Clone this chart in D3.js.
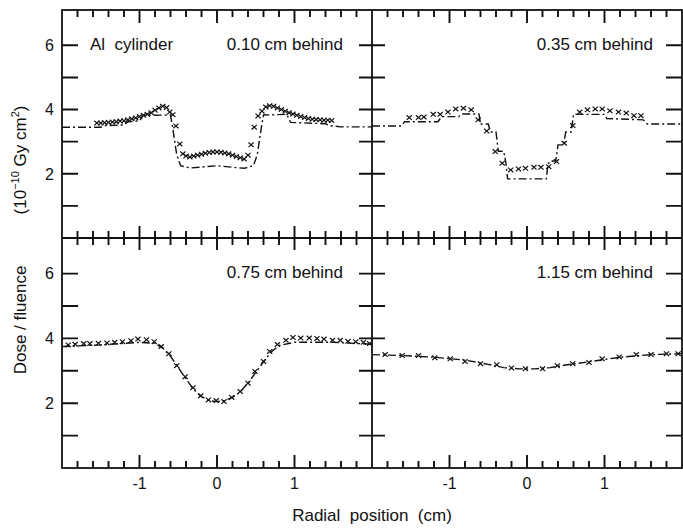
<!DOCTYPE html>
<html>
<head>
<meta charset="utf-8">
<script src="https://cdn.jsdelivr.net/npm/d3@7"></script>
<style>
  body { margin: 0; background: #fff; }
  text { font-family: "Liberation Sans", Arial, sans-serif; fill: #111; white-space: pre; }
</style>
</head>
<body>
<svg id="chart" width="683" height="529"></svg>
<script>
// panel labels
const panelLabels = ["0.10 cm behind", "0.35 cm behind", "0.75 cm behind", "1.15 cm behind"];
const xTickLabels = [-1, 0, 1];
const yTickLabels = [2, 4, 6];

// measured (crosses) and calculated (dash-dot) for each depth
const measX1 = [-1.55,-1.50,-1.45,-1.40,-1.35,-1.30,-1.25,-1.20,-1.15,-1.10,-1.05,-1.00,-0.95,-0.90,-0.85,-0.80,-0.75,-0.70,-0.65,
  -0.61,-0.57,-0.53,-0.48,-0.44,
  -0.40,-0.35,-0.30,-0.25,-0.20,-0.15,-0.10,-0.05,0.00,0.05,0.10,0.15,0.20,0.25,0.30,0.35,0.40,
  0.44,0.48,
  0.53,0.58,0.63,0.68,0.73,0.78,0.83,0.88,0.93,0.98,1.03,1.08,1.13,1.18,1.23,1.28,1.33,1.38,1.43,1.48];
const measY1 = [3.58,3.58,3.59,3.60,3.61,3.62,3.64,3.65,3.68,3.71,3.74,3.78,3.82,3.85,3.90,3.98,4.05,4.10,4.06,
  3.92,3.84,3.49,2.93,2.62,
  2.55,2.52,2.55,2.58,2.61,2.64,2.66,2.68,2.68,2.67,2.65,2.62,2.58,2.54,2.50,2.46,2.58,
  2.90,3.45,
  3.80,3.95,4.08,4.12,4.10,4.05,4.00,3.95,3.90,3.86,3.82,3.78,3.75,3.72,3.70,3.69,3.68,3.67,3.67,3.66];
const calcX1 = [-2.0,-1.5,-1.45,-1.2,-1.15,-1.0,-0.95,-0.6,-0.57,-0.52,-0.47,-0.35,0.0,0.35,0.47,0.52,0.57,0.6,0.9,0.95,1.4,1.45,1.6,2.0];
const calcY1 = [3.45,3.45,3.50,3.52,3.62,3.65,3.82,3.83,3.40,2.60,2.25,2.18,2.25,2.17,2.25,2.60,3.40,3.83,3.85,3.60,3.56,3.50,3.46,3.46];

const measX2 = [-1.52,-1.40,-1.33,-1.21,-1.12,-1.02,-0.92,-0.82,-0.72,-0.63,-0.52,-0.41,-0.32,-0.21,-0.11,-0.02,
  0.09,0.18,0.28,0.38,0.48,0.59,0.68,0.78,0.88,0.97,1.07,1.18,1.28,1.38,1.47];
const measY2 = [3.75,3.75,3.77,3.85,3.85,3.92,4.02,4.04,3.99,3.68,3.33,2.69,2.33,2.12,2.15,2.17,
  2.20,2.20,2.22,2.38,2.95,3.50,3.92,3.99,4.02,4.02,3.96,3.92,3.89,3.81,3.81];
const calcX2 = [-2.0,-1.62,-1.58,-1.15,-1.1,-0.88,-0.85,-0.62,-0.6,-0.5,-0.47,-0.4,-0.37,-0.3,-0.27,-0.25,0.25,0.27,0.3,0.37,0.4,0.47,0.5,0.57,0.6,1.0,1.03,1.5,1.55,2.0];
const calcY2 = [3.49,3.49,3.62,3.62,3.78,3.78,3.86,3.86,3.55,3.55,3.30,3.30,2.70,2.70,2.30,1.84,1.84,2.30,2.40,2.40,2.90,2.90,3.30,3.30,3.85,3.85,3.72,3.68,3.55,3.55];

const measX3 = [-1.92,-1.83,-1.72,-1.64,-1.53,-1.42,-1.32,-1.22,-1.11,-1.02,-0.91,-0.81,-0.72,-0.62,-0.52,-0.41,-0.31,-0.21,-0.11,-0.01,
  0.09,0.19,0.30,0.40,0.49,0.60,0.68,0.78,0.89,0.98,1.08,1.19,1.29,1.38,1.49,1.59,1.69,1.79,1.89,1.97];
const measY3 = [3.80,3.82,3.84,3.84,3.85,3.86,3.88,3.90,3.93,3.98,3.96,3.90,3.75,3.53,3.16,2.82,2.48,2.23,2.10,2.08,
  2.05,2.18,2.36,2.62,2.98,3.29,3.60,3.81,3.94,4.03,4.01,4.01,4.00,3.98,3.94,3.94,3.91,3.90,3.88,3.84];
const calcX3 = [-2.0,-1.5,-1.0,-0.8,-0.7,-0.6,-0.5,-0.4,-0.3,-0.2,-0.1,0.0,0.1,0.2,0.3,0.4,0.5,0.6,0.7,0.8,1.0,1.5,2.0];
const calcY3 = [3.75,3.80,3.88,3.85,3.70,3.45,3.10,2.75,2.42,2.20,2.08,2.05,2.08,2.18,2.35,2.62,2.95,3.28,3.58,3.78,3.88,3.88,3.82];

const measX4 = [-1.83,-1.61,-1.40,-1.19,-0.99,-0.80,-0.60,-0.39,-0.20,-0.02,0.20,0.39,0.59,0.80,0.97,1.19,1.41,1.60,1.80,1.95];
const measY4 = [3.50,3.47,3.47,3.40,3.37,3.29,3.22,3.19,3.09,3.06,3.06,3.16,3.22,3.26,3.37,3.43,3.50,3.50,3.53,3.53];
const calcX4 = [-2.0,-1.6,-1.2,-0.8,-0.5,-0.3,-0.1,0.1,0.3,0.5,0.8,1.2,1.6,2.0];
const calcY4 = [3.50,3.47,3.42,3.33,3.20,3.10,3.06,3.06,3.10,3.18,3.28,3.42,3.50,3.53];

const panels = [
  { label: panelLabels[0], mx: measX1, my: measY1, cx: calcX1, cy: calcY1, col: 0, row: 0 },
  { label: panelLabels[1], mx: measX2, my: measY2, cx: calcX2, cy: calcY2, col: 1, row: 0 },
  { label: panelLabels[2], mx: measX3, my: measY3, cx: calcX3, cy: calcY3, col: 0, row: 1 },
  { label: panelLabels[3], mx: measX4, my: measY4, cx: calcX4, cy: calcY4, col: 1, row: 1 }
];

const svg = d3.select("#chart");
const ink = "#111";

const fLeft = 62, fRight = 682, fTop = 10, fBottom = 468, midX = 372, midY = 238;
const colEdges = [[fLeft, midX], [midX, fRight]];
const rowEdges = [[fTop, midY], [midY, fBottom]];

const xScales = colEdges.map(e => d3.scaleLinear().domain([-2, 2]).range(e));
const yScales = rowEdges.map(e => d3.scaleLinear().domain([0, 7.1]).range([e[1], e[0]]));

const minorX = d3.range(-9, 10).map(i => i / 5).filter(v => Math.abs(v - Math.round(v)) > 1e-6);
const yTicks = [1, 2, 3, 4, 5, 6];

// tick marks drawn as path segments built from the scales
function segPath(segs) {
  return segs.map(s => `M${s[0]},${s[1]}L${s[2]},${s[3]}`).join("");
}
const tickSegs = [];

xScales.forEach(xs => {
  minorX.forEach(v => {
    const x = xs(v);
    tickSegs.push([x, fTop, x, fTop + 7], [x, midY - 7, x, midY + 7], [x, fBottom - 7, x, fBottom]);
  });
  xTickLabels.forEach(v => {
    const x = xs(v);
    tickSegs.push([x, fTop, x, fTop + 13], [x, midY - 12, x, midY + 12], [x, fBottom - 13, x, fBottom]);
  });

  svg.append("g").selectAll("text").data(xTickLabels).join("text")
    .attr("x", d => xs(d))
    .attr("y", fBottom + 21)
    .attr("text-anchor", "middle")
    .attr("font-size", "16px")
    .text(d => d < 0 ? "-" + Math.abs(d) : String(d));
});

yScales.forEach(ys => {
  yTicks.forEach(v => {
    const y = ys(v);
    tickSegs.push([fLeft, y, fLeft + 16, y], [midX - 13, y, midX + 13, y], [fRight - 16, y, fRight, y]);
  });

  svg.append("g").selectAll("text").data(yTickLabels).join("text")
    .attr("x", fLeft - 8)
    .attr("y", d => ys(d))
    .attr("dy", "0.36em")
    .attr("text-anchor", "end")
    .attr("font-size", "16px")
    .text(d => String(d));
});

svg.append("path")
  .attr("class", "ticks")
  .attr("d", segPath(tickSegs))
  .attr("fill", "none")
  .attr("stroke", ink)
  .attr("stroke-width", 1.9);

// frame
const frame = svg.append("g").attr("stroke", ink).attr("stroke-width", 1.8).attr("fill", "none");
frame.append("rect").attr("x", fLeft).attr("y", fTop).attr("width", fRight - fLeft).attr("height", fBottom - fTop);
frame.append("line").attr("x1", midX).attr("x2", midX).attr("y1", fTop).attr("y2", fBottom);
frame.append("line").attr("x1", fLeft).attr("x2", fRight).attr("y1", midY).attr("y2", midY);

// panels
panels.forEach(p => {
  const xs = xScales[p.col], ys = yScales[p.row];
  const g = svg.append("g");

  const calc = p.cx.map((x, i) => [x, p.cy[i]]);
  g.append("path")
    .datum(calc)
    .attr("fill", "none")
    .attr("stroke", ink)
    .attr("stroke-width", 1.4)
    .attr("stroke-dasharray", "8,3,2,3")
    .attr("d", d3.line().x(d => xs(d[0])).y(d => ys(d[1])));

  const meas = p.mx.map((x, i) => [x, p.my[i]]);
  g.selectAll("path.cross")
    .data(meas)
    .join("path")
    .attr("class", "cross")
    .attr("transform", d => `translate(${xs(d[0])},${ys(d[1])})`)
    .attr("d", "M-2.6,-2.3L2.6,2.3M-2.6,2.3L2.6,-2.3")
    .attr("stroke", ink)
    .attr("stroke-width", 1.2)
    .attr("fill", "none");

  const labelX = p.col === 0 ? 343 : 653;
  const labelY = p.row === 0 ? 50 : 278;
  g.append("text")
    .attr("x", labelX)
    .attr("y", labelY)
    .attr("text-anchor", "end")
    .attr("font-size", "17px")
    .text(p.label);
});

svg.append("text")
  .attr("x", 90)
  .attr("y", 50)
  .attr("font-size", "17px")
  .text("Al  cylinder");

// axis titles
svg.append("text")
  .attr("x", 372)
  .attr("y", 521)
  .attr("text-anchor", "middle")
  .attr("font-size", "17px")
  .text("Radial  position  (cm)");

svg.append("text")
  .attr("transform", "translate(26,320) rotate(-90)")
  .attr("text-anchor", "middle")
  .attr("font-size", "17px")
  .text("Dose / fluence");

const unit = svg.append("text")
  .attr("transform", "translate(26,160) rotate(-90)")
  .attr("text-anchor", "middle")
  .attr("font-size", "17px");
unit.append("tspan").text("(10");
unit.append("tspan").attr("dy", -7).attr("font-size", "11px").text("−10");
unit.append("tspan").attr("dy", 7).text(" Gy cm");
unit.append("tspan").attr("dy", -7).attr("font-size", "11px").text("2");
unit.append("tspan").attr("dy", 7).text(")");
</script>
</body>
</html>
